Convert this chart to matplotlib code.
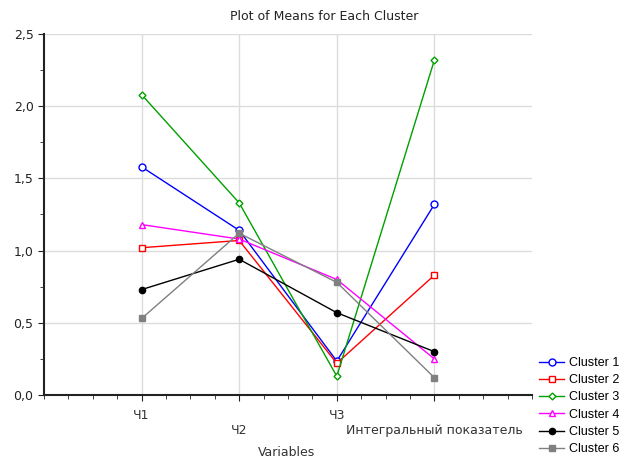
import matplotlib
matplotlib.use('Agg')
import matplotlib.pyplot as plt
import numpy as np
from matplotlib.ticker import MultipleLocator, FuncFormatter

plt.rcParams['font.family'] = ['DejaVu Sans']

# Data
variables = ['Ч1', 'Ч2', 'Ч3', 'Интегральный показатель']
cluster_names = ['Cluster 1', 'Cluster 2', 'Cluster 3', 'Cluster 4', 'Cluster 5', 'Cluster 6']
cluster1 = [1.58, 1.14, 0.235, 1.32]
cluster2 = [1.02, 1.07, 0.22, 0.83]
cluster3 = [2.08, 1.33, 0.13, 2.32]
cluster4 = [1.18, 1.08, 0.80, 0.25]
cluster5 = [0.73, 0.94, 0.57, 0.30]
cluster6 = [0.53, 1.12, 0.78, 0.12]

series = [cluster1, cluster2, cluster3, cluster4, cluster5, cluster6]
colors = ['#0000ff', '#ff0000', '#00a000', '#ff00ff', '#000000', '#808080']
markers = ['o', 's', 'D', '^', 'o', 's']
fills = ['none', 'none', 'none', 'none', 'full', 'full']
msizes = [5, 5, 3.5, 5, 4.5, 5]

fig = plt.figure(figsize=(6.25, 4.59), dpi=100)
ax = fig.add_axes([0.0704, 0.1394, 0.7808, 0.7866])

x = np.arange(1, len(variables) + 1)
lines = []
for vals, c, m, f, ms, name in zip(series, colors, markers, fills, msizes, cluster_names):
    face = 'white' if f == 'none' else c
    ln, = ax.plot(x, vals, color=c, marker=m, markersize=ms, markerfacecolor=face,
                  markeredgecolor=c, linewidth=1, label=name)
    lines.append(ln)

ax.set_xlim(0, 5)
ax.set_ylim(0, 2.5)
ax.xaxis.set_major_locator(MultipleLocator(1))
ax.xaxis.set_minor_locator(MultipleLocator(0.25))
ax.yaxis.set_major_locator(MultipleLocator(0.5))
ax.yaxis.set_minor_locator(MultipleLocator(0.25))
ax.yaxis.set_major_formatter(FuncFormatter(lambda v, p: ('%.1f' % v).replace('.', ',')))
ax.set_xticks(x)
ax.set_xticklabels([])
ax.grid(True, which='major', color='#dcdcdc', linewidth=1)
ax.set_axisbelow(True)

# staggered category labels
for i, lab in enumerate(variables):
    off = 0.1 if i % 2 == 0 else 0.2
    ax.text(x[i], -off, lab, ha='center', va='top', fontsize=9, color='#333333')

for s in ['top', 'right']:
    ax.spines[s].set_visible(False)
for s in ['left', 'bottom']:
    ax.spines[s].set_linewidth(1.5)
    ax.spines[s].set_color('#222222')
ax.tick_params(axis='both', which='major', length=4, direction='out', labelsize=9,
               colors='#222222')
ax.tick_params(axis='both', which='minor', length=3, direction='out', colors='#222222')
ax.tick_params(axis='x', which='major', labelbottom=False)

fig.text(287 / 625, 1 - 453 / 459, 'Variables', ha='center', va='center', fontsize=9,
         color='#333333')
fig.text(324 / 625, 1 - 16 / 459, 'Plot of Means for Each Cluster', ha='center', va='center',
         fontsize=9, color='#222222')

fig.legend(handles=lines, loc='upper left', bbox_to_anchor=(534 / 625, 1 - 352 / 459),
           frameon=False, prop={'family': 'Liberation Sans', 'size': 9},
           handlelength=2.0, labelspacing=0.42, handletextpad=0.4, borderaxespad=0)

fig.savefig('out.png', dpi=100)
